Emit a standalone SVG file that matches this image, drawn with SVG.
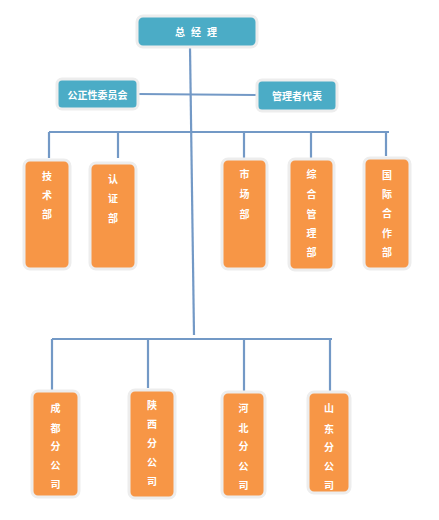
<svg xmlns="http://www.w3.org/2000/svg" width="439" height="520" viewBox="0 0 439 520">
<style>
.t{fill:#4BACC6;stroke:#EDEDED;stroke-width:3}
.o{fill:#F79646;stroke:#EDEDED;stroke-width:3}
.c{stroke:#7399C6;stroke-width:2.2;fill:none}
text{font-family:"Noto Sans CJK SC","Noto Sans",sans-serif;font-weight:bold;font-size:10px;fill:#FFFFFF;text-anchor:middle;dominant-baseline:central}
</style>
<rect width="439" height="520" fill="#FFFFFF"/>
<g id="connectors">
<path class="c" d="M190 47 L194 335"/>
<path class="c" d="M138 94 L257 95"/>
<path class="c" d="M49 132 H389"/>
<path class="c" d="M49 132 V158 M118 132 V158 M244 132 V158 M311 132 V158 M386 132 V156"/>
<path class="c" d="M52 339 H332"/>
<path class="c" d="M52 339 V391 M148 339 V388 M244 339 V391 M330 339 V391"/>
</g>
<g id="ceo"><rect class="t" x="137" y="16" width="120" height="31" rx="6"/><text x="180 196 212" y="31">总经理</text></g>
<g id="committee"><rect class="t" x="57" y="79" width="81" height="30" rx="5"/><text x="97.5" y="94">公正性委员会</text></g>
<g id="rep"><rect class="t" x="257" y="80" width="80" height="31" rx="5"/><text x="297" y="95.5">管理者代表</text></g>
<g id="tech"><rect class="o" x="24" y="160" width="46" height="109" rx="6"/><text x="47" y="175">技</text><text x="47" y="194">术</text><text x="47" y="213">部</text></g>
<g id="cert"><rect class="o" x="90" y="163" width="46" height="106" rx="6"/><text x="113" y="178">认</text><text x="113" y="197">证</text><text x="113" y="217">部</text></g>
<g id="market"><rect class="o" x="222" y="159" width="45" height="110" rx="6"/><text x="244.5" y="173">市</text><text x="244.5" y="193">场</text><text x="244.5" y="213">部</text></g>
<g id="admin"><rect class="o" x="289" y="159" width="45" height="111" rx="6"/><text x="311.5" y="173">综</text><text x="311.5" y="193">合</text><text x="311.5" y="213">管</text><text x="311.5" y="232">理</text><text x="311.5" y="251">部</text></g>
<g id="intl"><rect class="o" x="364" y="158" width="46" height="111" rx="6"/><text x="387" y="174">国</text><text x="387" y="193">际</text><text x="387" y="212">合</text><text x="387" y="232">作</text><text x="387" y="251">部</text></g>
<g id="chengdu"><rect class="o" x="32" y="391" width="47" height="106" rx="6"/><text x="55.5" y="407">成</text><text x="55.5" y="427">都</text><text x="55.5" y="445">分</text><text x="55.5" y="464">公</text><text x="55.5" y="483">司</text></g>
<g id="shaanxi"><rect class="o" x="129" y="390" width="46" height="108" rx="6"/><text x="152" y="404">陕</text><text x="152" y="423">西</text><text x="152" y="442">分</text><text x="152" y="461">公</text><text x="152" y="480">司</text></g>
<g id="hebei"><rect class="o" x="222" y="392" width="43" height="105" rx="6"/><text x="243.5" y="407">河</text><text x="243.5" y="427">北</text><text x="243.5" y="445">分</text><text x="243.5" y="465">公</text><text x="243.5" y="484">司</text></g>
<g id="shandong"><rect class="o" x="308" y="392" width="42" height="101" rx="6"/><text x="329" y="407">山</text><text x="329" y="428">东</text><text x="329" y="446">分</text><text x="329" y="465">公</text><text x="329" y="484">司</text></g>
</svg>
